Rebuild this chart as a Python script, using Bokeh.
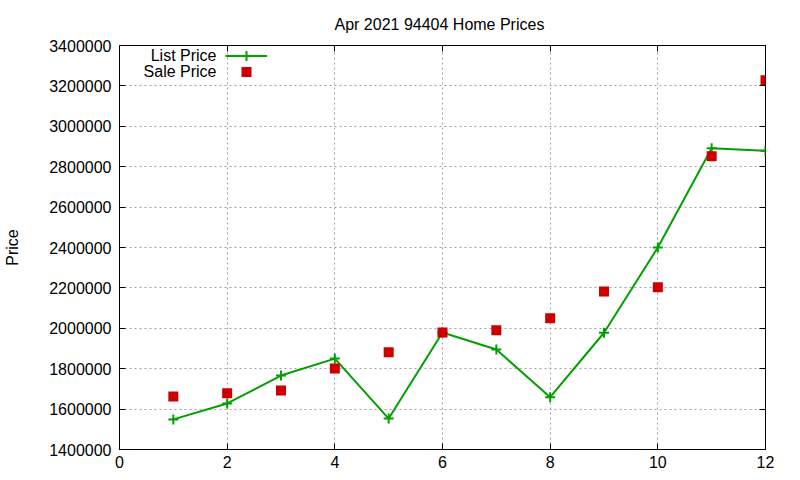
from bokeh.plotting import figure
from bokeh.models import (ColumnDataSource, LinearAxis, Range1d, Legend, LegendItem,
                          Label, FixedTicker, BasicTickFormatter)
from bokeh.core.properties import value
from bokeh.embed import file_html
from bokeh.resources import INLINE

months = [1, 2, 3, 4, 5, 6, 7, 8, 9, 10, 11, 12]
list_price = [1549000, 1628000, 1766000, 1850000, 1553000, 1979000,
              1895000, 1659000, 1978000, 2400000, 2891000, 2879000]
sale_price = [1662000, 1679000, 1692000, 1801000, 1882000, 1979000,
              1990000, 2050000, 2182000, 2203000, 2852000, 3228000]
x_ticks = [0, 2, 4, 6, 8, 10, 12]
y_ticks = [1400000, 1600000, 1800000, 2000000, 2200000, 2400000,
           2600000, 2800000, 3000000, 3200000, 3400000]
title_text = "Apr 2021 94404 Home Prices"
y_label = "Price"
series_names = ["List Price", "Sale Price"]

FONT = "Liberation Sans"
FS = "16px"
GREEN = "#00a000"
RED = "#cc0000"

src = ColumnDataSource(dict(x=months, lp=list_price, sp=sale_price))

p = figure(width=800, height=480, output_backend="svg", toolbar_location=None,
           x_range=Range1d(0, 12), y_range=Range1d(1400000, 3400000),
           min_border_left=119, min_border_right=35, min_border_top=44,
           min_border_bottom=31)
p.background_fill_color = "white"
p.border_fill_color = "white"
p.outline_line_color = "black"
p.outline_line_width = 1

p.title.text = title_text
p.title.text_font = FONT
p.title.text_font_size = FS
p.title.text_font_style = "normal"
p.title.text_color = "black"
p.title.align = "left"
p.title.offset = 215
p.title.standoff = 26

for ax in p.xaxis + p.yaxis:
    ax.major_label_text_font = FONT
    ax.major_label_text_font_size = FS
    ax.major_label_text_color = "black"
    ax.major_tick_in = 6
    ax.major_tick_out = 0
    ax.minor_tick_in = 0
    ax.minor_tick_out = 0
    ax.axis_line_color = None
    ax.major_tick_line_color = "black"

p.xaxis.ticker = FixedTicker(ticks=x_ticks)
p.yaxis.ticker = FixedTicker(ticks=y_ticks)
p.yaxis.formatter = BasicTickFormatter(use_scientific=False)
p.xaxis.major_label_standoff = 6
p.yaxis.major_label_standoff = 8
p.yaxis.axis_label = y_label
p.yaxis.axis_label_text_font = FONT
p.yaxis.axis_label_text_font_size = FS
p.yaxis.axis_label_text_font_style = "normal"
p.yaxis.axis_label_text_color = "black"
p.yaxis.axis_label_standoff = 25

# mirrored ticks on right and top
r_ax = LinearAxis(ticker=FixedTicker(ticks=y_ticks),
                  major_label_overrides={t: "" for t in y_ticks},
                  major_tick_in=6, major_tick_out=0, minor_tick_in=0, minor_tick_out=0,
                  axis_line_color=None, major_label_standoff=0)
t_ax = LinearAxis(ticker=FixedTicker(ticks=x_ticks),
                  major_label_overrides={t: "" for t in x_ticks},
                  major_tick_in=6, major_tick_out=0, minor_tick_in=0, minor_tick_out=0,
                  axis_line_color=None, major_label_standoff=0)
p.add_layout(r_ax, "right")
p.add_layout(t_ax, "above")

p.xgrid.ticker = FixedTicker(ticks=x_ticks)
p.ygrid.ticker = FixedTicker(ticks=y_ticks)
for g in (p.xgrid, p.ygrid):
    g.grid_line_color = "#a0a0a0"
    g.grid_line_dash = "2 3"
    g.grid_line_width = 1

ln = p.line("x", "lp", source=src, line_color=GREEN, line_width=2)
cr = p.scatter("x", "lp", source=src, marker="cross", size=10, line_color=GREEN, line_width=2)
sq = p.scatter("x", "sp", source=src, marker="square", size=10, fill_color=RED,
               line_color=RED, line_width=0)

legend_kw = dict(glyph_width=42, glyph_height=25, spacing=0, padding=0, margin=0,
                 label_standoff=0, label_width=0, label_text_font_size="1px",
                 border_line_color=None, background_fill_alpha=0)
leg1 = Legend(items=[LegendItem(label=value(" "), renderers=[ln, cr])],
              location=(106, 381), **legend_kw)
leg2 = Legend(items=[LegendItem(label=value(" "), renderers=[sq])],
              location=(106, 365), **legend_kw)
p.add_layout(leg1, "center")
p.add_layout(leg2, "center")

for name, yy in zip(series_names, [394, 378]):
    p.add_layout(Label(x=97, y=yy, x_units="screen", y_units="screen", text=name,
                       text_align="right", text_baseline="middle", text_font=FONT,
                       text_font_size=FS, text_color="black"))

open("out.html", "w").write(file_html(p, INLINE))
